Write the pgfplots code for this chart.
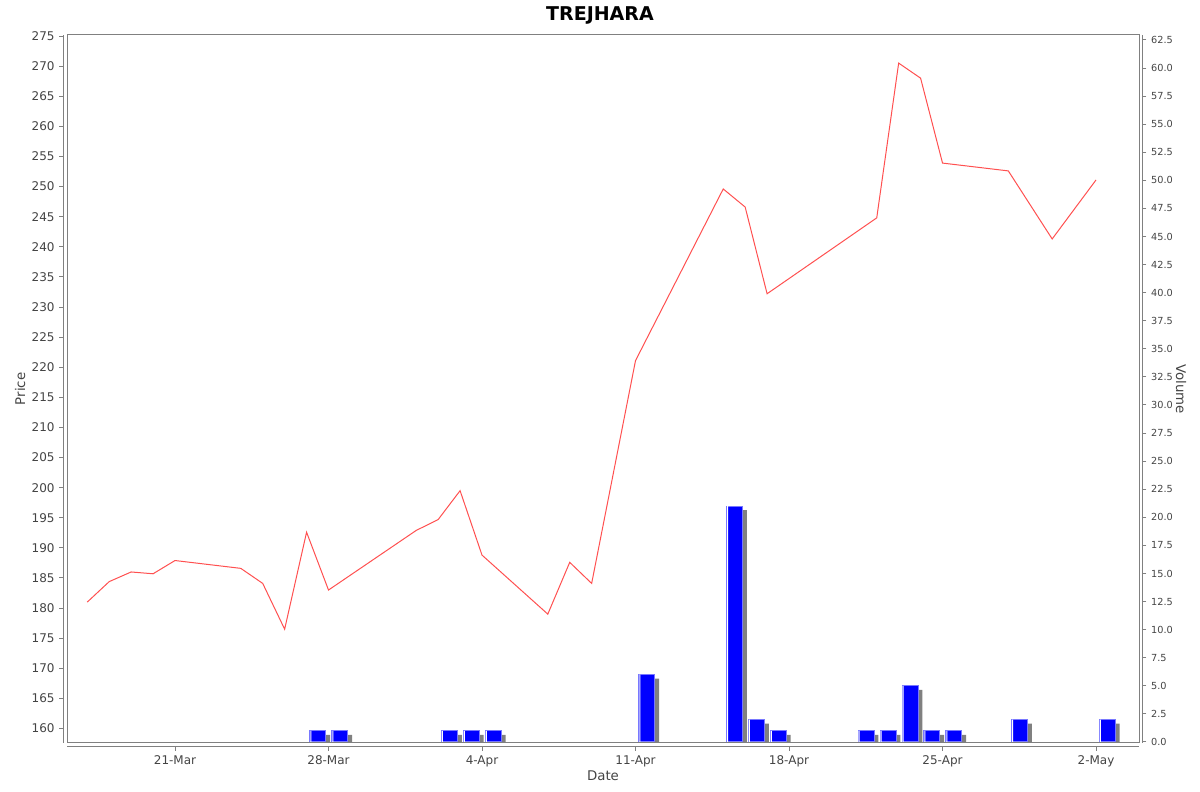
\documentclass[border=0pt]{standalone}
\usepackage{pgfplots}
\usepackage{pgfplotstable}
\pgfplotsset{compat=1.18}
\usepackage{fontspec}
\setmainfont{DejaVu Sans}
\definecolor{pricered}{RGB}{255,80,80}
\definecolor{barblue}{RGB}{0,0,255}
\definecolor{baredge}{RGB}{120,120,255}
\definecolor{shadowgray}{RGB}{128,128,128}
\definecolor{axisgray}{RGB}{128,128,128}
\definecolor{ticktext}{RGB}{68,68,68}
% day 0 = 21-Mar
\pgfplotstableread{
day price
-4 181.0
-3 184.4
-2 186.0
-1 185.7
0 187.9
3 186.6
4 184.1
5 176.5
6 192.6
7 183.0
11 192.9
12 194.7
13 199.5
14 188.8
17 179.0
18 187.6
19 184.1
21 221.1
25 249.6
26 246.6
27 232.2
32 244.8
33 270.5
34 268.0
35 253.9
38 252.6
40 241.3
42 251.1
}\pricetable
\pgfplotstableread{
day vol
6 1
7 1
12 1
13 1
14 1
21 6
25 21
26 2
27 1
31 1
32 1
33 5
34 1
35 1
38 2
42 2
}\voltable
\begin{document}
\begin{tikzpicture}
% 1 px of the reference = 0.75pt
\useasboundingbox (0pt,0pt) rectangle (900pt,594pt);
\pgfplotsset{
  chartbase/.style={
    at={(50.25pt,36.75pt)}, anchor=south west, scale only axis,
    width=804pt, height=531pt,
    xmin=-4.925, xmax=43.96,
    axis line style={axisgray, line width=0.75pt},
    tick style={axisgray, line width=0.75pt},
    major tick length=3pt,
    tick align=outside,
    ticklabel style={font=\fontsize{9}{10}\selectfont, text=ticktext},
    label style={font=\fontsize{10}{12}\selectfont, text=ticktext},
    /pgf/number format/assume math mode=true,
    clip mode=individual,
  }
}
% price (left axis)
\begin{axis}[chartbase,
  axis x line*=bottom, axis y line*=left, axis line shift=2.8pt,
  ymin=157.6, ymax=275.17,
  ytick={160,165,...,275},
  xtick={0,7,...,42},
  xticklabels={21-Mar,28-Mar,4-Apr,11-Apr,18-Apr,25-Apr,2-May},
  xlabel=Date, ylabel=Price,
  xlabel style={at={(axis description cs:0.5,-0.0466)}, anchor=center},
  ylabel style={at={(axis description cs:-0.0438,0.5)}, anchor=center},
  title=TREJHARA,
  title style={at={(axis description cs:0.4972,1.0311)}, anchor=center, yshift=-8.2pt,
    font=\bfseries\fontsize{14.25}{16}\selectfont, text=black},
]
\addplot[pricered, line width=0.75pt, mark=none] table[x=day, y=price] {\pricetable};
\end{axis}
% volume (right axis)
\begin{axis}[chartbase,
  axis x line=none, axis y line*=right, axis line shift=2.6pt,
  ymin=-0.09, ymax=62.94,
  ytick={0,2.5,...,62.5},
  yticklabel style={font=\fontsize{7.3}{8}\selectfont,
    /pgf/number format/.cd, fixed, fixed zerofill, precision=1},
  ylabel=Volume,
  ylabel style={at={(axis description cs:1.0392,0.5)}, anchor=center, rotate=180},
]
\addplot[ybar, bar width=12pt, bar shift=8.5pt,
  fill=barblue, draw=baredge, line width=0.75pt,
  preaction={fill=shadowgray, draw=none, transform canvas={shift={(3.2pt,-3pt)}}},
] table[x=day, y=vol] {\voltable};
% thin highlight near the left edge of each bar
\addplot[ybar, bar width=0.75pt, bar shift=3.25pt, fill=white, draw=none]
  table[x=day, y=vol] {\voltable};
\draw[axisgray, line width=0.75pt] (rel axis cs:0,0) rectangle (rel axis cs:1,1);
\end{axis}
\end{tikzpicture}
\end{document}
